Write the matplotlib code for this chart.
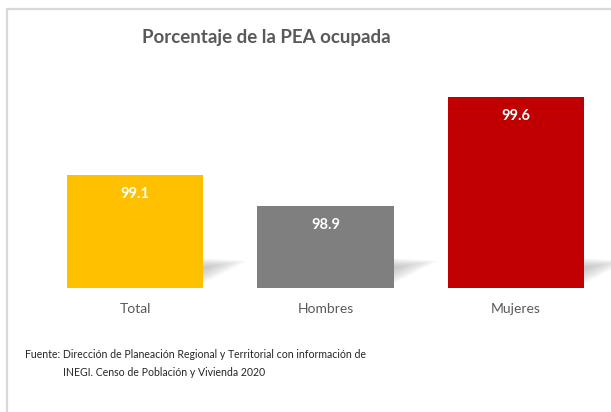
import matplotlib
matplotlib.use("Agg")
import matplotlib.pyplot as plt
from matplotlib.patches import Rectangle, Polygon

categories = ["Total", "Hombres", "Mujeres"]
values = [99.1, 98.9, 99.6]
colors = ["#FFC000", "#7F7F7F", "#C00000"]
title = "Porcentaje de la PEA ocupada"
source_line1 = "Fuente: Dirección de Planeación Regional y Territorial con información de"
source_line2 = "INEGI. Censo de Población y Vivienda 2020"

plt.rcParams['font.family'] = ['Lato', 'DejaVu Sans']

W, H = 611, 412
fig = plt.figure(figsize=(W / 100, H / 100), dpi=100)

# chart frame (clipped at right/bottom like the reference)
frame = Rectangle((6.5 / W, -0.05), 1.1, 1 - 8.5 / H + 0.05, transform=fig.transFigure,
                  fill=False, edgecolor="#D9D9D9", linewidth=1.6, zorder=0)
fig.patches.append(frame)

ax = fig.add_axes([39.75 / W, 124 / H, 571.5 / W, 228 / H])
ymin = 98.37
ax.set_xlim(-0.5, 2.5)
ax.set_ylim(ymin, ymin + 228 / 155)

x = list(range(len(categories)))
bars = ax.bar(x, [v - ymin for v in values], bottom=ymin, width=0.714,
              color=colors, zorder=3)

# soft shadows to the right of each bar
sx = 0.23
sy = 0.19
for b in bars:
    xr = b.get_x() + b.get_width()
    for i in range(10):
        shrink = i * 0.011
        poly = Polygon([(xr, ymin + 0.03 + shrink),
                        (xr, ymin + sy - shrink * 0.6),
                        (xr + sx - shrink * 2.2, ymin + sy - 0.015 - shrink * 0.4)],
                       closed=True, facecolor="#9a9a9a", edgecolor="none",
                       alpha=0.075, zorder=2)
        ax.add_patch(poly)

for b, v in zip(bars, values):
    ax.annotate(f"{v:.1f}", (b.get_x() + b.get_width() / 2, v),
                xytext=(0, -19), textcoords="offset pixels",
                ha="center", va="center", color="white", fontsize=10.5,
                fontweight="bold", zorder=4)

ax.set_xticks(x)
ax.set_xticklabels(categories, fontsize=10, color="#595959")
ax.tick_params(axis="x", length=0, pad=11)
ax.set_yticks([])
for s in ax.spines.values():
    s.set_visible(False)
ax.patch.set_alpha(0)

fig.text(266.5 / W, 1 - 37 / H, title, ha="center", va="center",
         fontsize=13.5, fontweight="bold", color="#595959")

fig.text(25 / W, 1 - 355 / H, source_line1, ha="left", va="center",
         fontsize=7.6, color="#262626")
fig.text(63 / W, 1 - 372 / H, source_line2, ha="left", va="center",
         fontsize=7.6, color="#262626")

fig.savefig("out.png", dpi=100)
